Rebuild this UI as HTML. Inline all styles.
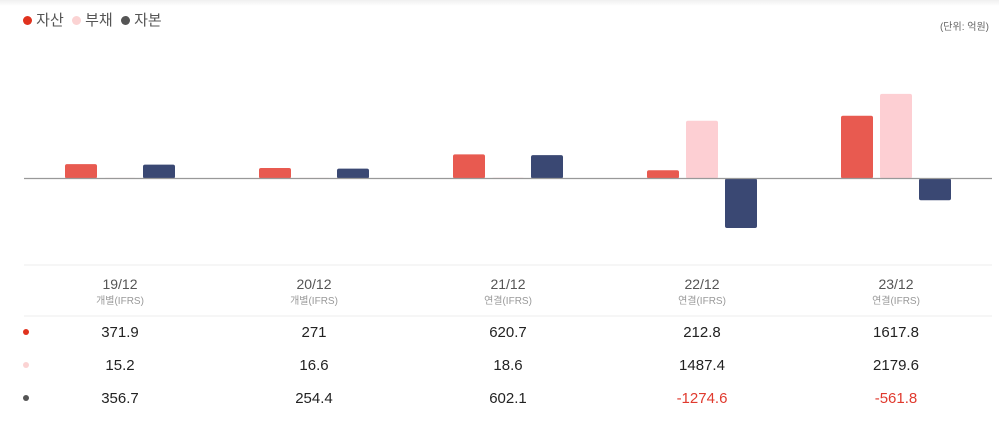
<!DOCTYPE html>
<html><head><meta charset="utf-8"><style>
body{margin:0;width:999px;height:425px;background:#fff;font-family:"Liberation Sans","Noto Sans CJK KR",sans-serif;overflow:hidden;position:relative}
.t{position:absolute;white-space:nowrap}
</style></head><body>
<div style="position:absolute;left:0;top:0;width:999px;height:6px;background:linear-gradient(#f0f0f0,#fff)"></div>
<div class="t" style="left:23px;top:9px;font-size:15px;color:#555">
<span><span style="display:inline-block;width:9px;height:9px;border-radius:50%;background:#e0321e"></span> 자산</span>
<span style="margin-left:4px"><span style="display:inline-block;width:9px;height:9px;border-radius:50%;background:#fbd3d3"></span> 부채</span>
<span style="margin-left:4px"><span style="display:inline-block;width:9px;height:9px;border-radius:50%;background:#555"></span> 자본</span>
</div>
<div class="t" style="right:10px;top:18px;font-size:10px;color:#666">(단위: 억원)</div>
<svg id="chart" width="999" height="425" style="position:absolute;left:0;top:0"></svg>
<script>
const categories=["19/12","20/12","21/12","22/12","23/12"];
const subLabels=["개별(IFRS)","개별(IFRS)","연결(IFRS)","연결(IFRS)","연결(IFRS)"];
const assets=[371.9,271,620.7,212.8,1617.8];
const liabilities=[15.2,16.6,18.6,1487.4,2179.6];
const equity=[356.7,254.4,602.1,-1274.6,-561.8];
const valueLabels=[["371.9","271","620.7","212.8","1617.8"],["15.2","16.6","18.6","1487.4","2179.6"],["356.7","254.4","602.1","-1274.6","-561.8"]];
const NS="http://www.w3.org/2000/svg";
const svg=document.getElementById('chart');
const baseY=178.5,scale=0.0388;
const y=v=>baseY-v*scale;
const xc=i=>120+i*194;
function el(tag,attrs,parent){const e=document.createElementNS(NS,tag);for(const k in attrs)e.setAttribute(k,attrs[k]);(parent||svg).appendChild(e);return e;}
const series=[[assets,"#e85a50",-39,"asset"],[liabilities,"#fdcfd3",0,"liability"],[equity,"#3a4873",39,"equity"]];
series.forEach(([vals,col,off,nm])=>{vals.forEach((v,i)=>{
 const top=Math.min(y(v),baseY),h=Math.abs(y(v)-baseY);
 const r=el('rect',{x:xc(i)+off-16,y:top,width:32,height:h,rx:2,fill:col});
 
 
});});
const ax=el('line',{x1:24,x2:992,y1:baseY,y2:baseY,stroke:'#999','stroke-width':1.3});


[265,316].forEach(yy=>{const l=el('line',{x1:24,x2:992,y1:yy,y2:yy,stroke:'#eee'});

});
categories.forEach((c,i)=>{
 const t=el('text',{x:xc(i),y:289,'text-anchor':'middle','font-size':14,fill:'#555'});t.textContent=c;
 
 
 const s=el('text',{x:xc(i),y:304,'text-anchor':'middle','font-size':10,fill:'#999'});s.textContent=subLabels[i];
 
 
});
const dotCols=["#e0321e","#fbd3d3","#555"];const rowY=[337,370,403];const rowNames=["asset","liability","equity"];
valueLabels.forEach((row,r)=>{
 const d=el('circle',{cx:26,cy:rowY[r]-5,r:3,fill:dotCols[r]});
 
 
 row.forEach((v,i)=>{const t=el('text',{x:xc(i),y:rowY[r],'text-anchor':'middle','font-size':15,fill:v.startsWith('-')?'#e03a2e':'#222'});t.textContent=v;
 
 });
});
</script>
</body></html>
